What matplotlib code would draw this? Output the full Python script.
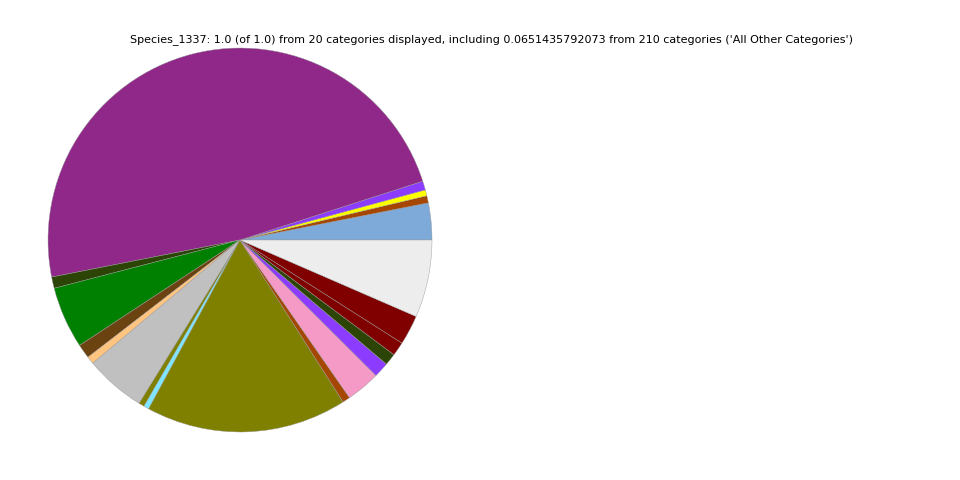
import matplotlib
matplotlib.use("Agg")
import matplotlib.pyplot as plt

# Slice fractions, counterclockwise from 3 o'clock
fractions = [0.031, 0.006, 0.005, 0.0075, 0.481, 0.0095, 0.052, 0.012,
             0.0064, 0.051, 0.0047, 0.0044, 0.169, 0.0064, 0.0286, 0.0128,
             0.010, 0.0117, 0.025, 0.0651435792073]
colors = ['#7eaad9', '#a54700', '#ffff00', '#8b3cff', '#8f2889', '#2c4506',
          '#008000', '#6b4310', '#ffc47f', '#c0c0c0', '#808000', '#80e6ff',
          '#808000', '#a54700', '#f59ac6', '#8b3cff', '#2c4506', '#800000',
          '#800000', '#ededed']
title = ("Species_1337: 1.0 (of 1.0) from 20 categories displayed, including "
         "0.0651435792073 from 210 categories ('All Other Categories')")

fig = plt.figure(figsize=(9.6, 4.8), dpi=100)
ax = fig.add_axes([0.05, 0.1, 0.4, 0.8])
ax.pie(fractions, colors=colors, startangle=0, counterclock=True,
       wedgeprops={'edgecolor': '#999999', 'linewidth': 0.3})
ax.set_xlim(-1, 1)
ax.set_ylim(-1, 1)
ax.set_aspect('equal')
ax.axis('off')

fig.text(0.5125, 1 - 40 / 480, title, ha='center', va='center', fontsize=8)

fig.savefig('out.png', dpi=100)
